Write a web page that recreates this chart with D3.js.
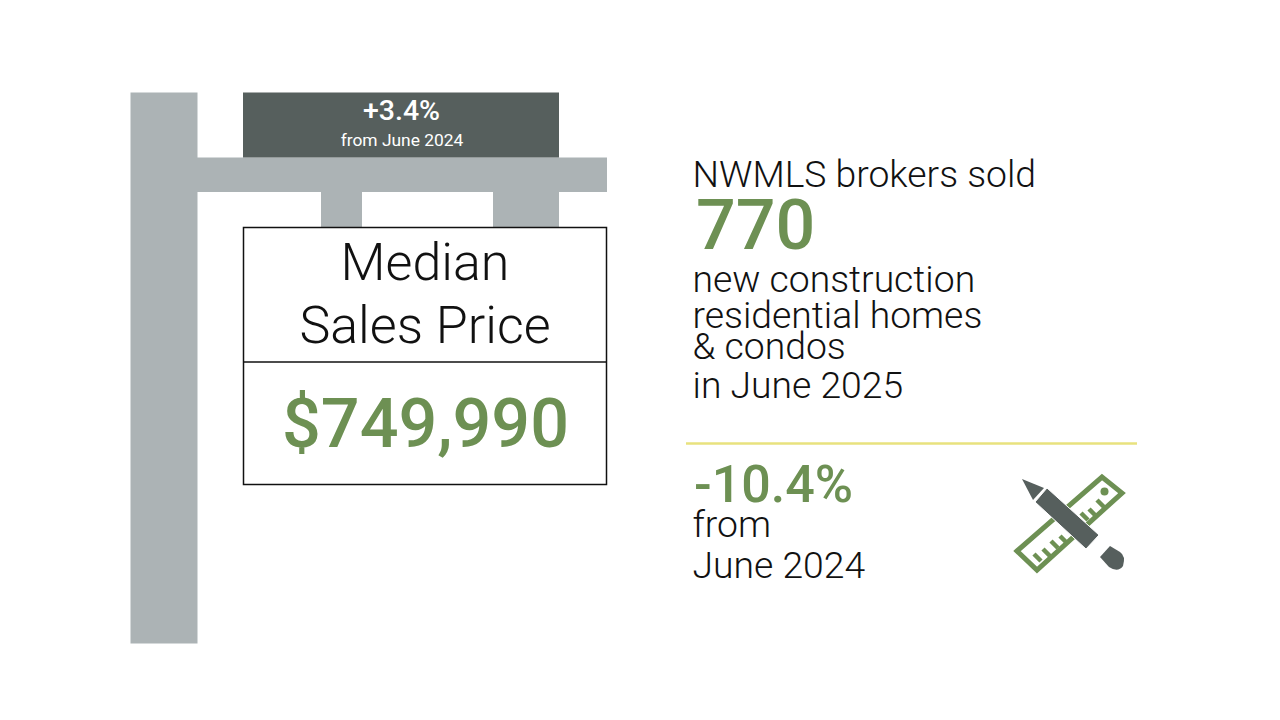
<!DOCTYPE html>
<html><head><meta charset="utf-8">
<script src="https://cdnjs.cloudflare.com/ajax/libs/d3/7.8.5/d3.min.js"></script>
<style>html,body{margin:0;background:#fff;overflow:hidden}svg{display:block}text{font-family:Roboto,sans-serif}</style>
</head><body><svg id="c" width="1280" height="720"></svg>
<script>
const badgeLines = ["+3.4%", "from June 2024"];
const signTitle = ["Median", "Sales Price"];
const priceLabel = "$749,990";
const leadLine = "NWMLS brokers sold";
const countLabel = "770";
const descLines = ["new construction", "residential homes", "& condos", "in June 2025"];
const changeLabel = "-10.4%";
const changeLines = ["from", "June 2024"];
const GREEN = "#6d9053", GREY = "#acb3b5", DARK = "#565f5d", INK = "#111";
const svg = d3.select("#c");
const rects = [
  [130.5,92.5,67,551,GREY],[197,157.5,410,34.5,GREY],[321,192,41,36,GREY],[493,192,66,36,GREY],[243,92.5,316,65,DARK]
];
svg.selectAll("rect.s").data(rects).join("rect").attr("class","s")
  .attr("x",d=>d[0]).attr("y",d=>d[1]).attr("width",d=>d[2]).attr("height",d=>d[3]).attr("fill",d=>d[4]);
svg.append("rect").attr("x",243.5).attr("y",227.5).attr("width",363).attr("height",257).attr("fill","#fff").attr("stroke","#111").attr("stroke-width",1.5);
svg.append("line").attr("x1",243).attr("x2",607).attr("y1",362).attr("y2",362).attr("stroke","#111").attr("stroke-width",1.5);
svg.append("line").attr("x1",686).attr("x2",1137).attr("y1",443.5).attr("y2",443.5).attr("stroke","#e8e27e").attr("stroke-width",2.5);
const T=(s,x,y,size,weight,fill,anchor="start")=>svg.append("text").text(s).attr("x",x).attr("y",y)
  .attr("font-size",size).attr("font-weight",weight).attr("fill",fill).attr("text-anchor",anchor);
T(badgeLines[0],401.5,120,28.5,500,"#fff","middle");
T(badgeLines[1],402,146,17.4,400,"#fff","middle");
T(signTitle[0],425,280,52,300,INK,"middle");
T(signTitle[1],425,343,52,300,INK,"middle");
T(priceLabel,425.5,447,68.3,500,GREEN,"middle");
T(leadLine,692.5,187,37.3,300,INK);
T(countLabel,696,249,70,500,GREEN);
[292,328,359,398].forEach((y,i)=>T(descLines[i],692.5,y,37.3,300,INK));
T(changeLabel,694,501.5,52,500,GREEN);
T(changeLines[0],692.5,537,37.3,300,INK);
T(changeLines[1],692.5,578,37.3,300,INK);
const icon=svg.append("g");
icon.append("polygon").attr("points","1017,551 1102,477 1122,493 1037,570").attr("fill","none").attr("stroke",GREEN).attr("stroke-width",5);
const ticks=[[1034,554],[1043,549],[1051,541],[1060,536],[1081,513],[1089,509],[1097,500]];
ticks.forEach(t=>icon.append("line").attr("x1",t[0]).attr("y1",t[1]).attr("x2",t[0]+7).attr("y2",t[1]+7).attr("stroke",GREEN).attr("stroke-width",4.5));
icon.append("circle").attr("cx",1104.5).attr("cy",491.5).attr("r",4).attr("fill",GREEN);
icon.append("polygon").attr("points","1035,502 1047,488 1099,535 1086,549").attr("fill",DARK).attr("stroke","#fff").attr("stroke-width",1);
icon.append("polygon").attr("points","1022,479 1044,488 1033,500").attr("fill",DARK);
icon.append("path").attr("d","M1110,546 L1100,557 L1109,567 Q1118,573 1123,566 Q1126,556 1120,552 Z").attr("fill",DARK);
</script></body></html>
